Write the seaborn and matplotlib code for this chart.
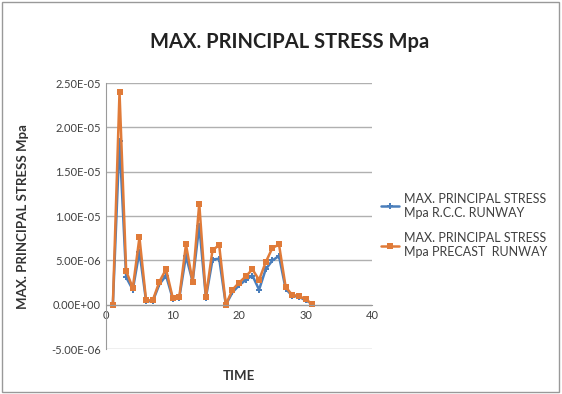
import numpy as np
import pandas as pd
import matplotlib
matplotlib.use('Agg')
import matplotlib.pyplot as plt
import seaborn as sns
from matplotlib.patches import Rectangle

time = list(range(1, 32))
rcc = [0, 18.5, 3.1, 1.7, 6.0, 0.4, 0.4, 2.3, 3.3, 0.7, 0.8, 5.5, 2.6, 8.9, 0.8, 5.1,
       5.2, 0.0, 1.4, 2.2, 2.8, 3.3, 1.7, 4.0, 5.0, 5.5, 1.8, 1.0, 0.9, 0.5, 0.1]
precast = [0, 24.0, 3.8, 1.9, 7.6, 0.5, 0.5, 2.6, 4.0, 0.8, 0.9, 6.8, 2.6, 11.4, 0.9, 6.2,
           6.7, 0.0, 1.7, 2.5, 3.2, 4.0, 2.8, 4.8, 6.4, 6.8, 2.0, 1.1, 1.0, 0.6, 0.1]
series = ['MAX. PRINCIPAL STRESS\nMpa R.C.C. RUNWAY', 'MAX. PRINCIPAL STRESS\nMpa PRECAST  RUNWAY']
yticks = [-5e-6, 0, 5e-6, 1e-5, 1.5e-5, 2e-5, 2.5e-5]
ylabels = ['-5.00E-06', '0.00E+00', '5.00E-06', '1.00E-05', '1.50E-05', '2.00E-05', '2.50E-05']

df = pd.DataFrame({
    'TIME': time * 2,
    'stress': np.array(rcc + precast) * 1e-6,
    'series': [series[0]] * len(rcc) + [series[1]] * len(precast),
})

sns.set_style('white')
plt.rcParams['font.family'] = ['Lato', 'DejaVu Sans']

fig = plt.figure(figsize=(5.62, 3.94), dpi=100)
ax = fig.add_axes([0.189, 0.114, 0.473, 0.675])
sns.lineplot(data=df, x='TIME', y='stress', hue='series', style='series',
             palette=['#4A7EBB', '#E07B39'], markers=['P', 's'], dashes=False,
             markersize=5, markeredgewidth=0, linewidth=1.8, ax=ax)

ax.set_xlim(0, 40)
ax.set_ylim(-5e-6, 2.5e-5)
ax.set_xticks([0, 10, 20, 30, 40])
ax.set_yticks(yticks)
ax.set_yticklabels(ylabels)
ax.grid(axis='y', color='#b0b0b0', linewidth=1)
ax.set_axisbelow(True)
for s in ['top', 'right']:
    ax.spines[s].set_visible(False)
ax.spines['bottom'].set_position(('data', 0))
ax.spines['bottom'].set_color('#9a9a9a')
ax.spines['left'].set_color('#9a9a9a')
ax.tick_params(axis='both', labelsize=8, colors='#404040', length=0, pad=4)
ax.set_xlabel('TIME', fontsize=9.5, fontweight='bold', color='#333333')
ax.xaxis.set_label_coords(0.5, -0.08)
ax.set_ylabel('MAX. PRINCIPAL STRESS Mpa', fontsize=9.5, fontweight='bold', color='#333333')
ax.yaxis.set_label_coords(-0.29, 0.5)

leg = ax.legend(loc='center left', bbox_to_anchor=(0.99, 0.465), frameon=False,
                fontsize=9, handlelength=1.5, handletextpad=0.4, labelspacing=1.1)
for t in leg.get_texts():
    t.set_color('#404040')

fig.text(0.515, 0.893, 'MAX. PRINCIPAL STRESS Mpa', ha='center', va='center',
         fontsize=14.5, fontweight='bold', color='#222222')
fig.patches.append(Rectangle((0.004, 0.005), 0.99, 0.99, transform=fig.transFigure,
                             fill=False, edgecolor='#999999', linewidth=1))

fig.savefig('out.png', dpi=100)
